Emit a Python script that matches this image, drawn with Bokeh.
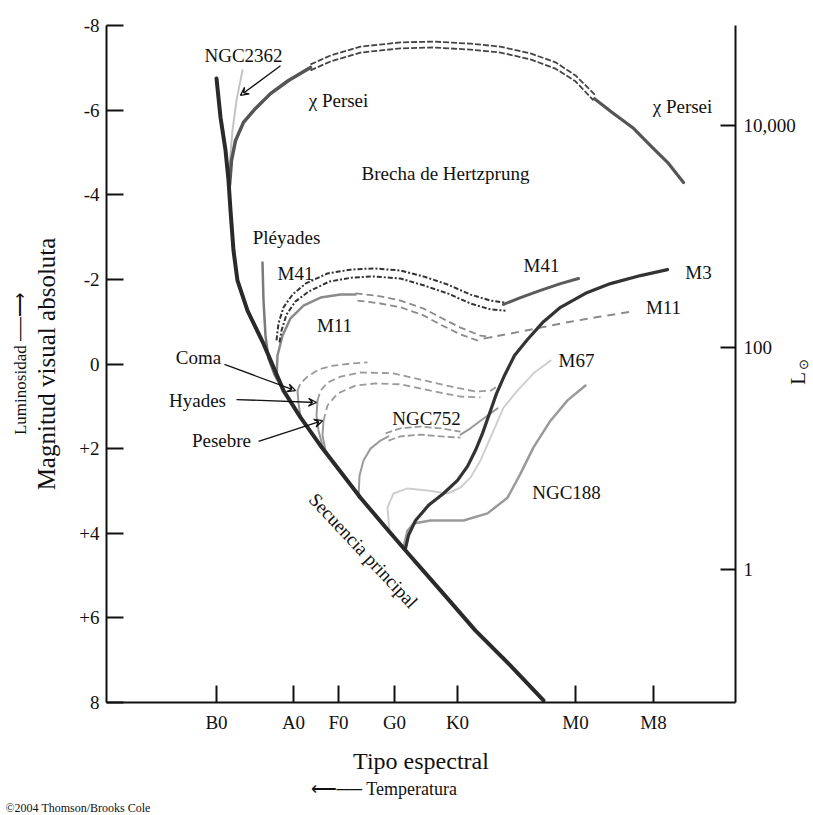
from math import pi
from bokeh.plotting import figure
from bokeh.models import Range1d, LinearAxis, FixedTicker, Label, Arrow, VeeHead, ColumnDataSource, Title
from bokeh.core.properties import value
from bokeh.embed import file_html
from bokeh.resources import INLINE

FONT = "Liberation Serif"
INK = "#111111"

# ---------------- axes data ----------------
spectral_types = ["B0", "A0", "F0", "G0", "K0", "M0", "M8"]
spectral_pos = [2.20, 3.74, 4.64, 5.76, 7.02, 9.38, 10.94]
mag_ticks = [-8, -6, -4, -2, 0, 2, 4, 6, 8]
mag_tick_labels = ["-8", "-6", "-4", "-2", "0", "+2", "+4", "+6", "8"]
lum_log_ticks = [0, 2, 4]
lum_tick_labels = ["1", "100", "10,000"]

# ---------------- curves (spectral index, absolute magnitude) ----------------
ms_x = [2.20, 2.28, 2.38, 2.44, 2.48, 2.54, 2.62, 2.82, 3.14, 3.54, 3.88, 4.28, 4.62, 5.08, 5.58, 6.02, 6.68, 7.38, 8.08, 8.74]
ms_mag = [-6.75, -5.83, -5.05, -4.34, -3.63, -2.68, -1.97, -1.26, -0.48, 0.63, 1.26, 1.93, 2.45, 3.16, 3.86, 4.46, 5.35, 6.30, 7.13, 7.95]

ngc2362_x = [2.46, 2.52, 2.60, 2.72]
ngc2362_mag = [-4.69, -5.52, -6.23, -6.94]

chi_a_x = [2.46, 2.50, 2.58, 2.74, 2.98, 3.28, 3.64, 4.08]
chi_a_mag = [-4.22, -4.81, -5.28, -5.71, -6.04, -6.39, -6.70, -7.01]
chi_gap_up_x = [4.08, 4.48, 5.08, 5.88, 6.54, 7.28, 7.88, 8.48, 8.98, 9.38, 9.78]
chi_gap_up_mag = [-7.08, -7.29, -7.50, -7.60, -7.62, -7.57, -7.50, -7.34, -7.13, -6.82, -6.35]
chi_gap_lo_x = [4.08, 4.48, 5.08, 5.88, 6.54, 7.28, 7.88, 8.48, 8.98, 9.38, 9.74]
chi_gap_lo_mag = [-6.94, -7.15, -7.36, -7.46, -7.48, -7.43, -7.36, -7.20, -6.98, -6.68, -6.23]
chi_b_x = [9.76, 10.12, 10.54, 10.88, 11.24, 11.54]
chi_b_mag = [-6.27, -5.94, -5.57, -5.16, -4.74, -4.29]

pleiades_x = [3.12, 3.14, 3.18, 3.24, 3.36, 3.52]
pleiades_mag = [-2.40, -1.50, -0.67, -0.13, 0.25, 0.58]

m41_up_x = [3.40, 3.44, 3.54, 3.72, 3.98, 4.42, 4.88, 5.34, 5.88, 6.34, 6.82, 7.28, 7.68, 7.98]
m41_up_mag = [-0.56, -0.96, -1.34, -1.64, -1.90, -2.14, -2.23, -2.26, -2.21, -2.07, -1.88, -1.64, -1.50, -1.45]
m41_lo_x = [3.46, 3.50, 3.60, 3.78, 4.04, 4.46, 4.90, 5.34, 5.88, 6.34, 6.82, 7.28, 7.68, 7.98]
m41_lo_mag = [-0.51, -0.79, -1.17, -1.48, -1.71, -1.95, -2.04, -2.07, -2.02, -1.86, -1.67, -1.43, -1.29, -1.26]
m41_b_x = [7.94, 8.28, 8.68, 9.08, 9.44]
m41_b_mag = [-1.41, -1.57, -1.74, -1.90, -2.02]

m11_a_x = [3.40, 3.42, 3.52, 3.68, 3.94, 4.28, 4.68, 4.98]
m11_a_mag = [0.34, -0.20, -0.67, -1.08, -1.38, -1.57, -1.64, -1.64]
m11_up_x = [4.98, 5.48, 5.88, 6.34, 6.68, 7.08, 7.48, 7.72]
m11_up_mag = [-1.67, -1.60, -1.50, -1.31, -1.10, -0.86, -0.67, -0.63]
m11_lo_x = [5.02, 5.48, 5.88, 6.34, 6.68, 7.08, 7.48]
m11_lo_mag = [-1.50, -1.43, -1.34, -1.15, -0.93, -0.70, -0.53]
m11_b_x = [7.54, 8.08, 8.68, 9.28, 9.88, 10.52]
m11_b_mag = [-0.60, -0.72, -0.86, -1.00, -1.12, -1.24]

m3_x = [5.98, 6.04, 6.18, 6.44, 6.74, 7.02, 7.22, 7.38, 7.52, 7.66, 7.80, 7.96, 8.16, 8.42, 8.74, 9.08, 9.58, 10.08, 10.68, 11.22]
m3_mag = [4.36, 4.05, 3.70, 3.34, 3.06, 2.75, 2.42, 2.04, 1.64, 1.17, 0.70, 0.27, -0.20, -0.58, -1.00, -1.34, -1.67, -1.90, -2.09, -2.23]

m67_x = [5.66, 5.62, 5.74, 6.02, 6.42, 6.82, 7.08, 7.28, 7.48, 7.68, 7.94, 8.22, 8.54, 8.88]
m67_mag = [3.98, 3.39, 3.06, 2.94, 2.99, 3.06, 2.92, 2.68, 2.28, 1.74, 1.03, 0.63, 0.22, -0.08]

ngc188_x = [5.94, 6.02, 6.14, 6.48, 7.14, 7.62, 8.02, 8.28, 8.54, 8.88, 9.22, 9.58]
ngc188_mag = [4.34, 3.94, 3.77, 3.70, 3.70, 3.53, 3.16, 2.59, 1.97, 1.34, 0.86, 0.51]

ngc752_a_x = [5.04, 5.06, 5.14, 5.28, 5.48, 5.64]
ngc752_a_mag = [3.16, 2.64, 2.28, 2.00, 1.81, 1.71]
ngc752_up_x = [5.58, 5.88, 6.28, 6.68, 7.08]
ngc752_up_mag = [1.64, 1.52, 1.48, 1.52, 1.60]
ngc752_lo_x = [5.64, 5.88, 6.28, 6.68, 7.08]
ngc752_lo_mag = [1.81, 1.71, 1.67, 1.71, 1.74]
ngc752_b_x = [7.08, 7.28, 7.48, 7.68, 7.82]
ngc752_b_mag = [1.67, 1.52, 1.34, 1.17, 1.05]

coma_a_x = [3.88, 3.84, 3.82]
coma_a_mag = [1.24, 0.93, 0.63]
coma_b_x = [3.82, 3.88, 4.02, 4.24, 4.54, 4.88, 5.22]
coma_b_mag = [0.63, 0.46, 0.30, 0.13, 0.04, -0.01, -0.04]

hyades_a_x = [4.48, 4.32, 4.24, 4.20, 4.22]
hyades_a_mag = [2.23, 1.93, 1.57, 1.22, 0.86]
hyades_b_x = [4.22, 4.28, 4.42, 4.68, 5.08, 5.74, 6.28, 6.88, 7.38, 7.68, 7.82]
hyades_b_mag = [0.86, 0.63, 0.44, 0.30, 0.20, 0.22, 0.37, 0.53, 0.65, 0.63, 0.53]

praesepe_a_x = [4.68, 4.52, 4.38, 4.32, 4.34]
praesepe_a_mag = [2.56, 2.33, 2.04, 1.69, 1.34]
praesepe_b_x = [4.34, 4.42, 4.62, 4.98, 5.38, 5.88, 6.48, 7.08, 7.48]
praesepe_b_mag = [1.34, 0.98, 0.70, 0.51, 0.46, 0.48, 0.63, 0.77, 0.79]

# ---------------- annotations ----------------
ann_text = ["NGC2362", "\u03c7 Persei", "\u03c7 Persei", "Brecha de Hertzprung", "Pl\u00e9yades",
            "M41", "M11", "M41", "M3", "M11", "M67", "NGC752", "NGC188", "Coma", "Hyades", "Pesebre"]
ann_x = [2.74, 4.64, 11.52, 6.78, 3.60, 3.78, 4.56, 8.70, 11.84, 11.14, 9.40, 6.40, 9.20, 1.84, 1.82, 2.30]
ann_mag = [-7.29, -6.23, -6.09, -4.50, -2.99, -2.14, -0.91, -2.33, -2.16, -1.34, -0.08, 1.29, 3.04, -0.15, 0.86, 1.81]

# pointer arrows: label -> curve
ptr_x0 = [3.48, 2.36, 2.60, 3.04]
ptr_m0 = [-7.05, 0.01, 0.84, 1.83]
ptr_x1 = [2.68, 3.78, 4.20, 4.32]
ptr_m1 = [-6.35, 0.63, 0.91, 1.34]

# ---------------- figure ----------------
p = figure(width=813, height=815, x_range=Range1d(0, 12.58), y_range=Range1d(8, -8),
           output_backend="svg", toolbar_location=None,
           min_border_left=106, min_border_right=78, min_border_top=25, min_border_bottom=113)
p.outline_line_color = None
p.grid.visible = False
p.background_fill_color = "white"
p.border_fill_color = "white"

def style_axis(ax):
    ax.axis_line_color = INK
    ax.axis_line_width = 2
    ax.major_tick_line_color = INK
    ax.major_tick_line_width = 2
    ax.major_tick_out = 0
    ax.minor_tick_line_color = None
    ax.major_label_text_font = FONT
    ax.major_label_text_font_size = "19px"
    ax.major_label_text_color = INK
    ax.axis_label_text_font = FONT
    ax.axis_label_text_font_style = "normal"
    ax.axis_label_text_color = INK

xa = p.xaxis[0]
style_axis(xa)
xa.ticker = FixedTicker(ticks=spectral_pos)
xa.major_label_overrides = {v: t for v, t in zip(spectral_pos, spectral_types)}
xa.major_tick_in = 17
xa.major_label_standoff = 9
xa.axis_label = "Tipo espectral"
xa.axis_label_text_font_size = "24px"
xa.axis_label_standoff = 12

ya = p.yaxis[0]
style_axis(ya)
ya.ticker = FixedTicker(ticks=mag_ticks)
ya.major_label_overrides = {v: t for v, t in zip(mag_ticks, mag_tick_labels)}
ya.major_tick_in = 17
ya.major_label_standoff = 7
ya.axis_label = "Magnitud visual absoluta"
ya.axis_label_text_font_size = "25px"
ya.axis_label_standoff = 16

p.extra_y_ranges = {"lum": Range1d(-1.195, 4.904)}
ra = LinearAxis(y_range_name="lum")
style_axis(ra)
ra.ticker = FixedTicker(ticks=lum_log_ticks)
ra.major_label_overrides = {v: t for v, t in zip(lum_log_ticks, lum_tick_labels)}
ra.major_tick_in = 15
ra.major_label_standoff = 8
p.add_layout(ra, "right")

def curve(x, y, color, width, dash="solid"):
    cap = "round" if dash == "solid" else "butt"
    p.line(x, y, line_color=color, line_width=width, line_dash=dash, line_cap=cap, line_join="round")

# light / medium curves first, darker on top
curve(ngc2362_x, ngc2362_mag, "#c4c4c4", 2)
curve(m67_x, m67_mag, "#cfcfcf", 2)
curve(ngc188_x, ngc188_mag, "#9a9a9a", 2.5)
curve(ngc752_a_x, ngc752_a_mag, "#9a9a9a", 2)
curve(ngc752_up_x, ngc752_up_mag, "#9a9a9a", 1.8, "7 3")
curve(ngc752_lo_x, ngc752_lo_mag, "#9a9a9a", 1.8, "7 3")
curve(ngc752_b_x, ngc752_b_mag, "#9a9a9a", 2)
for ax_, am_ in [(coma_a_x, coma_a_mag), (hyades_a_x, hyades_a_mag), (praesepe_a_x, praesepe_a_mag)]:
    curve(ax_, am_, "#9a9a9a", 2)
for bx_, bm_ in [(coma_b_x, coma_b_mag), (hyades_b_x, hyades_b_mag), (praesepe_b_x, praesepe_b_mag)]:
    curve(bx_, bm_, "#9a9a9a", 1.8, "7 4")
curve(m11_a_x, m11_a_mag, "#8a8a8a", 2.5)
curve(m11_up_x, m11_up_mag, "#8a8a8a", 1.8, "7 4")
curve(m11_lo_x, m11_lo_mag, "#8a8a8a", 1.8, "7 4")
curve(m11_b_x, m11_b_mag, "#8a8a8a", 2, "8 6")
curve(pleiades_x, pleiades_mag, "#7a7a7a", 2.5)
curve(m41_up_x, m41_up_mag, "#333333", 2, "5 2 2 2")
curve(m41_lo_x, m41_lo_mag, "#333333", 2, "5 2 2 2")
curve(m41_b_x, m41_b_mag, "#5a5a5a", 3)
curve(m3_x, m3_mag, "#333333", 3.2)
curve(chi_a_x, chi_a_mag, "#555555", 3.5)
curve(chi_gap_up_x, chi_gap_up_mag, "#444444", 1.8, "6 2")
curve(chi_gap_lo_x, chi_gap_lo_mag, "#444444", 1.8, "6 2")
curve(chi_b_x, chi_b_mag, "#555555", 3.2)
curve(ms_x, ms_mag, "#2a2a2a", 4)

# pointer arrows
for x0, m0, x1, m1 in zip(ptr_x0, ptr_m0, ptr_x1, ptr_m1):
    p.add_layout(Arrow(x_start=x0, y_start=m0, x_end=x1, y_end=m1, line_color=INK, line_width=1.3,
                       end=VeeHead(size=8, line_color=INK, line_width=1.3, fill_color=None)))

# labels inside the frame
src = ColumnDataSource(dict(x=ann_x, y=ann_mag, text=ann_text))
p.text(x="x", y="y", text="text", source=src, text_font=value(FONT), text_font_size="19px",
       text_color=INK, text_align="center", text_baseline="middle")
p.text(x=[5.14], y=[4.41], text=["Secuencia principal"], angle=[-0.82], text_font=value(FONT),
       text_font_size="19px", text_color=INK, text_align="center", text_baseline="middle")

# outer annotations (side panels)
def side_title(text, place, size, align="center", offset=0, standoff=0):
    t = Title(text=text, align=align, offset=offset, standoff=standoff, text_font=FONT,
              text_font_size=size, text_font_style="normal", text_color=INK)
    p.add_layout(t, place)

side_title("Luminosidad \u2500\u2500\u27f6", "left", "17px", standoff=2)
side_title("\u27f5\u2500\u2500 Temperatura", "below", "18px", align="left", offset=204, standoff=0)
side_title("\u00a92004 Thomson/Brooks Cole", "below", "12px", align="left", offset=-101, standoff=0)

# right-hand luminosity symbol L_sun (kept in the empty top panel so it does not take width)
p.add_layout(Label(x=13.82, y=0.34, text="L", angle=pi / 2, text_font=FONT, text_font_size="21px",
                   text_color=INK, text_align="center", text_baseline="middle"), "above")
p.add_layout(Label(x=13.94, y=0.01, text="\u2299", angle=pi / 2, text_font=FONT, text_font_size="13px",
                   text_color=INK, text_align="center", text_baseline="middle"), "above")

open("out.html", "w").write(file_html(p, INLINE))
